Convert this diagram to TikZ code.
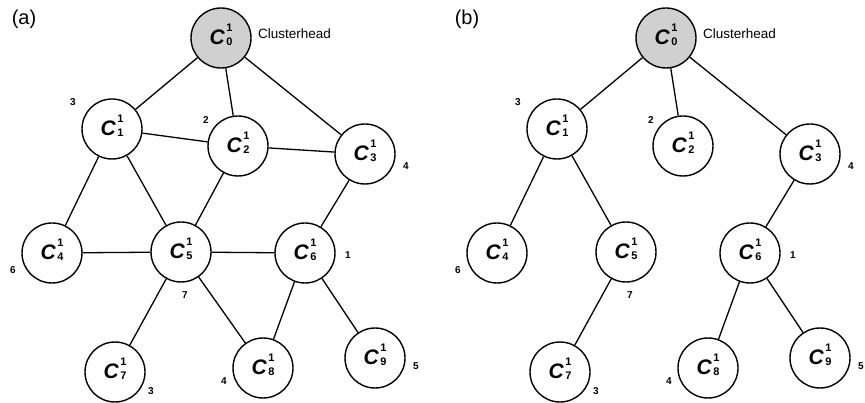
\documentclass[tikz,border=0pt]{standalone}
\usepackage{fontspec}
\setmainfont{Liberation Sans}
\definecolor{headfill}{RGB}{208,208,208}
% C with superscript 1 and a subscript index
\newcommand{\clab}[1]{{\fontsize{21}{21}\selectfont\bfseries\itshape C}\kern1.5pt\rlap{\smash{\raisebox{13.5pt}{\fontsize{11}{11}\selectfont\bfseries 1}}}{\fontsize{11}{11}\selectfont\bfseries\raisebox{-1pt}{#1}}}
\tikzset{
  member/.style={circle, draw, line width=1.4pt, minimum size=60pt, inner sep=0pt, fill=white},
  head/.style={member, fill=headfill},
  link/.style={line width=1.3pt},
  hop/.style={font=\fontsize{10}{10}\selectfont\bfseries, inner sep=0pt},
  tag/.style={font=\fontsize{13.5}{14}\selectfont, inner sep=0pt, anchor=west},
  panel/.style={font=\fontsize{20}{21}\selectfont, inner sep=0pt}
}
% places the ten nodes of one cluster, names prefixed by #1
\newcommand{\cluster}[1]{%
  \node[head]   (#10) at (221,38)  {\clab{0}};
  \node[member] (#11) at (112,129) {\clab{1}};
  \node[member] (#12) at (238,146) {\clab{2}};
  \node[member] (#13) at (365,154) {\clab{3}};
  \node[member] (#14) at (52,253)  {\clab{4}};
  \node[member] (#15) at (181,252) {\clab{5}};
  \node[member] (#16) at (305,253) {\clab{6}};
  \node[member] (#17) at (115,372) {\clab{7}};
  \node[member] (#18) at (263,368) {\clab{8}};
  \node[member] (#19) at (375,358) {\clab{9}};
  \node[tag] (#1ch) at (258,34) {Clusterhead};
  \node[hop] (#1h1) at (73,102)  {3};
  \node[hop] (#1h2) at (206,120) {2};
  \node[hop] (#1h3) at (406,166) {4};
  \node[hop] (#1h4) at (13,270)  {6};
  \node[hop] (#1h5) at (185,295) {7};
  \node[hop] (#1h6) at (348,255) {1};
  \node[hop] (#1h7) at (151,391) {3};
  \node[hop] (#1h8) at (224,381) {4};
  \node[hop] (#1h9) at (416,366) {5};
}
\begin{document}
\begin{tikzpicture}[x=1pt,y=-1pt]
\useasboundingbox (0,0) rectangle (865,403);

% (a) full connectivity graph
\node[panel] (pa) at (24,19) {(a)};
\cluster{a}
\foreach \u/\v in {0/1,0/2,0/3,1/2,2/3,1/4,1/5,2/5,3/6,4/5,5/6,5/7,5/8,6/8,6/9}
  \draw[link] (a\u) -- (a\v);

% (b) spanning tree rooted at the clusterhead
\node[panel] (pb) at (467,19) {(b)};
\begin{scope}[xshift=445pt]
\cluster{b}
\end{scope}
\foreach \u/\v in {0/1,0/2,0/3,1/4,1/5,3/6,5/7,6/8,6/9}
  \draw[link] (b\u) -- (b\v);
\end{tikzpicture}
\end{document}
